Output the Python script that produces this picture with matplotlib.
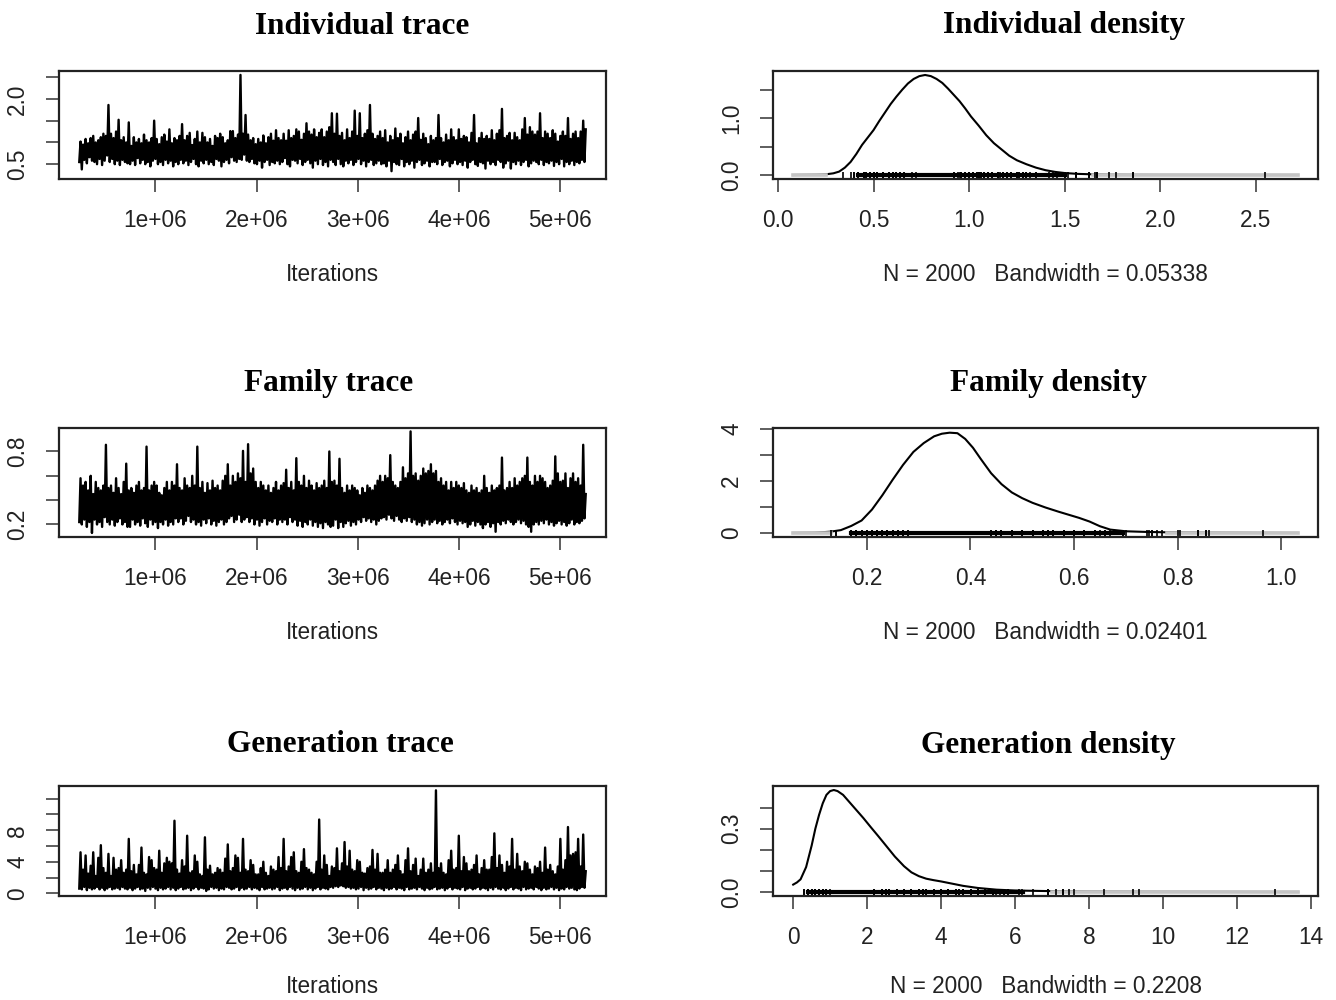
import numpy as np
import matplotlib
matplotlib.use('Agg')
import matplotlib.pyplot as plt

plt.rcParams['font.family'] = ['Liberation Sans', 'DejaVu Sans']

# MCMC chain: iterations 250000 .. 5250000 (2000 kept samples).
iter_start = 250000
iter_end = 5250000

ind_hi = [1.02, 0.95, 1.08, 0.98, 1.10, 1.15, 1.00, 1.05, 1.12, 1.20, 1.15, 1.86, 1.20, 1.10, 1.25, 1.52, 1.05, 1.12, 1.00, 1.46,
          0.92, 1.12, 1.00, 1.08, 0.98, 1.18, 1.05, 1.00, 1.10, 1.50, 1.08, 0.96, 1.12, 1.18, 1.02, 1.30, 0.98, 1.10, 1.05, 1.15,
          1.42, 1.05, 1.15, 1.22, 0.94, 1.08, 1.25, 1.00, 1.22, 1.12, 1.00, 1.08, 0.92, 1.15, 1.10, 1.20, 1.12, 0.98, 1.05, 1.26,
          1.26, 1.10, 1.18, 2.55, 1.20, 1.63, 1.18, 1.05, 1.10, 0.96, 1.08, 1.00, 1.16, 0.98, 1.12, 1.20, 1.04, 1.28, 1.10, 1.05,
          1.20, 1.04, 1.28, 1.10, 1.15, 1.30, 1.25, 1.06, 1.20, 1.44, 1.25, 1.18, 1.30, 1.12, 1.22, 1.30, 1.12, 1.25, 1.35, 1.67,
          1.20, 1.66, 1.15, 1.22, 1.05, 1.30, 1.10, 1.25, 1.73, 1.15, 1.67, 1.10, 1.20, 1.28, 1.86, 1.20, 1.08, 1.15, 1.25, 1.10,
          1.28, 1.00, 1.15, 1.05, 1.32, 1.10, 1.20, 0.98, 1.12, 1.25, 1.05, 1.18, 1.25, 1.56, 1.06, 1.20, 1.10, 0.96, 1.15, 1.05,
          1.10, 1.63, 1.10, 1.00, 1.18, 1.05, 1.30, 1.12, 1.05, 1.30, 1.08, 1.15, 1.12, 1.00, 1.22, 1.63, 0.98, 1.10, 1.22, 1.08,
          1.15, 1.08, 1.28, 1.05, 1.20, 1.28, 1.77, 1.10, 1.15, 1.22, 1.05, 1.22, 1.12, 1.05, 1.30, 1.56, 1.18, 1.35, 1.25, 1.18,
          1.25, 1.67, 1.10, 1.25, 1.20, 1.10, 1.28, 1.20, 1.02, 1.15, 1.25, 1.15, 1.56, 1.08, 1.20, 1.25, 1.10, 1.25, 1.50, 1.30]
ind_lo = [0.55, 0.38, 0.60, 0.52, 0.66, 0.58, 0.55, 0.50, 0.62, 0.48, 0.58, 0.70, 0.55, 0.62, 0.50, 0.58, 0.48, 0.60, 0.55, 0.52,
          0.50, 0.58, 0.48, 0.64, 0.52, 0.60, 0.50, 0.55, 0.45, 0.58, 0.62, 0.50, 0.55, 0.48, 0.60, 0.52, 0.58, 0.45, 0.55, 0.50,
          0.60, 0.52, 0.58, 0.48, 0.55, 0.62, 0.50, 0.45, 0.58, 0.52, 0.60, 0.50, 0.55, 0.48, 0.62, 0.58, 0.45, 0.55, 0.60, 0.52,
          0.66, 0.58, 0.55, 0.62, 0.60, 0.72, 0.58, 0.55, 0.62, 0.52, 0.50, 0.58, 0.42, 0.55, 0.60, 0.48, 0.55, 0.52, 0.58, 0.50,
          0.55, 0.64, 0.50, 0.45, 0.60, 0.58, 0.52, 0.62, 0.48, 0.55, 0.60, 0.52, 0.42, 0.58, 0.50, 0.62, 0.48, 0.55, 0.45, 0.60,
          0.55, 0.48, 0.62, 0.50, 0.45, 0.58, 0.52, 0.60, 0.48, 0.55, 0.62, 0.50, 0.58, 0.45, 0.55, 0.60, 0.48, 0.52, 0.58, 0.50,
          0.52, 0.45, 0.58, 0.34, 0.55, 0.50, 0.48, 0.62, 0.45, 0.55, 0.50, 0.58, 0.42, 0.55, 0.60, 0.48, 0.52, 0.58, 0.45, 0.55,
          0.55, 0.50, 0.62, 0.48, 0.55, 0.58, 0.45, 0.52, 0.60, 0.50, 0.55, 0.48, 0.58, 0.42, 0.55, 0.60, 0.50, 0.46, 0.55, 0.52,
          0.40, 0.58, 0.50, 0.55, 0.48, 0.60, 0.55, 0.42, 0.52, 0.58, 0.40, 0.55, 0.50, 0.58, 0.48, 0.55, 0.60, 0.45, 0.52, 0.58,
          0.55, 0.50, 0.60, 0.48, 0.55, 0.52, 0.58, 0.46, 0.55, 0.50, 0.62, 0.45, 0.55, 0.50, 0.58, 0.48, 0.55, 0.52, 0.60, 0.55]

fam_hi = [0.58, 0.52, 0.55, 0.48, 0.60, 0.45, 0.55, 0.50, 0.48, 0.52, 0.855, 0.50, 0.52, 0.46, 0.58, 0.50, 0.45, 0.55, 0.70, 0.48,
          0.50, 0.46, 0.52, 0.55, 0.48, 0.50, 0.84, 0.48, 0.52, 0.55, 0.52, 0.46, 0.44, 0.50, 0.55, 0.48, 0.55, 0.52, 0.695, 0.50,
          0.48, 0.58, 0.52, 0.50, 0.60, 0.52, 0.84, 0.50, 0.55, 0.46, 0.54, 0.48, 0.56, 0.50, 0.52, 0.48, 0.56, 0.60, 0.695, 0.52,
          0.60, 0.55, 0.62, 0.58, 0.805, 0.55, 0.86, 0.62, 0.66, 0.55, 0.50, 0.55, 0.52, 0.48, 0.52, 0.46, 0.50, 0.55, 0.48, 0.52,
          0.54, 0.65, 0.50, 0.55, 0.48, 0.745, 0.55, 0.52, 0.60, 0.50, 0.56, 0.52, 0.48, 0.54, 0.50, 0.52, 0.56, 0.50, 0.80, 0.55,
          0.56, 0.52, 0.74, 0.50, 0.46, 0.52, 0.48, 0.52, 0.50, 0.48, 0.44, 0.50, 0.46, 0.52, 0.50, 0.48, 0.52, 0.56, 0.60, 0.55,
          0.60, 0.58, 0.77, 0.55, 0.52, 0.50, 0.55, 0.67, 0.58, 0.62, 0.965, 0.60, 0.62, 0.56, 0.60, 0.66, 0.62, 0.64, 0.695, 0.62,
          0.64, 0.55, 0.58, 0.52, 0.55, 0.48, 0.55, 0.50, 0.55, 0.52, 0.50, 0.54, 0.48, 0.46, 0.52, 0.48, 0.50, 0.46, 0.48, 0.60,
          0.50, 0.46, 0.52, 0.48, 0.50, 0.52, 0.75, 0.48, 0.50, 0.55, 0.50, 0.58, 0.52, 0.55, 0.58, 0.60, 0.75, 0.55, 0.52, 0.60,
          0.55, 0.60, 0.58, 0.55, 0.50, 0.52, 0.56, 0.76, 0.62, 0.55, 0.56, 0.62, 0.50, 0.58, 0.62, 0.55, 0.58, 0.52, 0.855, 0.45]
fam_lo = [0.22, 0.20, 0.24, 0.18, 0.22, 0.13, 0.24, 0.20, 0.22, 0.18, 0.26, 0.22, 0.20, 0.24, 0.19, 0.22, 0.25, 0.20, 0.22, 0.18,
          0.18, 0.24, 0.20, 0.22, 0.19, 0.25, 0.21, 0.18, 0.24, 0.20, 0.22, 0.17, 0.22, 0.20, 0.24, 0.19, 0.22, 0.20, 0.25, 0.22,
          0.25, 0.20, 0.23, 0.27, 0.22, 0.24, 0.20, 0.22, 0.19, 0.24, 0.21, 0.25, 0.20, 0.23, 0.19, 0.22, 0.24, 0.20, 0.22, 0.25,
          0.27, 0.22, 0.24, 0.28, 0.22, 0.24, 0.26, 0.22, 0.25, 0.20, 0.24, 0.19, 0.22, 0.25, 0.20, 0.23, 0.22, 0.25, 0.20, 0.24,
          0.22, 0.24, 0.20, 0.26, 0.22, 0.24, 0.19, 0.23, 0.18, 0.22, 0.20, 0.24, 0.19, 0.22, 0.18, 0.21, 0.17, 0.22, 0.20, 0.18,
          0.19, 0.24, 0.17, 0.22, 0.18, 0.21, 0.23, 0.19, 0.22, 0.20, 0.24, 0.22, 0.26, 0.23, 0.25, 0.22, 0.24, 0.20, 0.23, 0.25,
          0.26, 0.24, 0.28, 0.25, 0.23, 0.27, 0.24, 0.22, 0.25, 0.23, 0.26, 0.22, 0.24, 0.20, 0.22, 0.19, 0.21, 0.24, 0.20, 0.22,
          0.24, 0.21, 0.23, 0.20, 0.22, 0.24, 0.21, 0.25, 0.22, 0.20, 0.23, 0.21, 0.22, 0.18, 0.20, 0.23, 0.19, 0.22, 0.20, 0.17,
          0.20, 0.22, 0.18, 0.21, 0.14, 0.22, 0.20, 0.23, 0.21, 0.24, 0.22, 0.20, 0.22, 0.24, 0.21, 0.23, 0.20, 0.18, 0.14, 0.20,
          0.22, 0.20, 0.23, 0.21, 0.24, 0.20, 0.22, 0.19, 0.21, 0.23, 0.20, 0.22, 0.19, 0.21, 0.24, 0.20, 0.22, 0.21, 0.23, 0.25]

gen_hi = [5.2, 3.0, 4.8, 2.5, 3.5, 5.2, 2.2, 4.5, 6.1, 3.2, 2.6, 5.0, 2.2, 4.5, 3.0, 3.2, 4.2, 2.6, 3.0, 6.9,
          2.8, 3.6, 2.4, 3.6, 5.8, 2.6, 2.4, 4.6, 4.2, 3.2, 3.0, 5.4, 2.6, 3.8, 4.5, 4.0, 3.8, 9.2, 3.0, 2.5,
          4.2, 3.4, 7.3, 2.6, 2.8, 4.8, 4.0, 2.4, 2.2, 7.1, 3.0, 3.5, 2.4, 2.6, 3.2, 3.0, 2.6, 4.4, 6.2, 2.8,
          3.2, 4.8, 4.5, 2.6, 6.9, 3.0, 2.8, 4.2, 3.6, 2.4, 2.4, 3.2, 4.0, 2.6, 2.2, 3.4, 3.0, 2.8, 4.6, 3.2,
          6.9, 2.8, 3.4, 4.6, 5.2, 2.8, 2.6, 4.0, 5.6, 3.2, 3.0, 2.6, 2.4, 4.0, 9.35, 3.0, 4.8, 3.6, 2.2, 3.4,
          3.2, 5.7, 2.8, 3.8, 6.5, 3.4, 5.4, 3.0, 2.8, 4.2, 4.0, 2.6, 2.5, 3.2, 3.4, 5.5, 3.0, 5.0, 2.6, 2.6,
          3.0, 4.2, 2.6, 3.0, 3.6, 4.8, 2.8, 2.4, 4.2, 5.7, 2.8, 3.6, 4.4, 2.2, 3.0, 4.4, 2.6, 3.0, 3.8, 2.6,
          13.05, 3.2, 3.8, 2.6, 2.4, 4.2, 5.4, 3.0, 3.2, 7.3, 2.8, 4.6, 3.8, 2.8, 3.0, 3.6, 4.8, 2.4, 3.2, 4.2,
          3.0, 3.0, 4.6, 7.6, 3.2, 4.8, 3.6, 2.6, 4.0, 3.4, 6.9, 3.0, 5.0, 3.4, 2.8, 4.0, 3.8, 3.0, 2.4, 3.4,
          3.2, 4.0, 2.6, 5.8, 3.0, 3.6, 2.8, 2.4, 3.4, 6.9, 3.0, 4.2, 8.4, 4.8, 5.0, 5.2, 6.9, 3.4, 7.45, 2.8]
gen_lo = [0.6, 0.5, 0.8, 0.4, 0.7, 0.5, 0.6, 0.8, 0.5, 0.7, 0.4, 0.6, 0.8, 0.5, 0.6, 0.7, 0.5, 0.8, 0.6, 0.5,
          0.7, 0.4, 0.6, 0.8, 0.5, 0.6, 0.3, 0.7, 0.5, 0.8, 0.6, 0.4, 0.7, 0.5, 0.6, 0.8, 0.5, 0.7, 0.4, 0.6,
          0.8, 0.5, 0.6, 0.7, 0.4, 0.6, 0.8, 0.5, 0.7, 0.6, 0.3, 0.5, 0.8, 0.6, 0.7, 0.4, 0.6, 0.5, 0.8, 0.7,
          0.5, 0.6, 0.8, 0.4, 0.7, 0.5, 0.6, 0.8, 0.5, 0.7, 0.6, 0.4, 0.8, 0.5, 0.6, 0.7, 0.5, 0.6, 0.8, 0.4,
          0.6, 0.7, 0.5, 0.8, 0.6, 0.4, 0.7, 0.5, 0.6, 0.8, 0.5, 0.7, 0.4, 0.6, 0.8, 0.5, 0.7, 0.6, 0.5, 0.8,
          0.7, 0.9, 0.8, 1.0, 0.9, 0.7, 0.8, 0.6, 0.7, 0.5, 0.6, 0.8, 0.4, 0.7, 0.5, 0.6, 0.8, 0.5, 0.7, 0.6,
          0.4, 0.7, 0.5, 0.6, 0.8, 0.5, 0.7, 0.6, 0.4, 0.8, 0.5, 0.6, 0.7, 0.5, 0.8, 0.6, 0.4, 0.7, 0.5, 0.6,
          0.8, 0.5, 0.6, 0.7, 0.4, 0.6, 0.8, 0.5, 0.7, 0.6, 0.5, 0.8, 0.4, 0.6, 0.7, 0.5, 0.6, 0.8, 0.5, 0.7,
          0.6, 0.4, 0.7, 0.5, 0.8, 0.6, 0.5, 0.7, 0.4, 0.6, 0.8, 0.5, 0.7, 0.6, 0.4, 0.8, 0.5, 0.6, 0.7, 0.5,
          0.8, 0.6, 0.4, 0.7, 0.5, 0.6, 0.8, 0.5, 0.7, 0.4, 0.6, 0.5, 0.8, 0.6, 0.7, 0.5, 0.4, 0.6, 0.8, 0.7]

# kernel density estimates
ind_dens_x = [0.08, 0.20, 0.25, 0.29, 0.32, 0.35, 0.38, 0.41, 0.44, 0.47, 0.50, 0.53, 0.56, 0.59, 0.62, 0.65, 0.68,
              0.71, 0.74, 0.77, 0.80, 0.83, 0.86, 0.89, 0.92, 0.95, 0.98, 1.01, 1.05, 1.09, 1.13, 1.17, 1.21, 1.25,
              1.30, 1.35, 1.40, 1.45, 1.50, 1.57, 1.65, 1.75, 1.85, 2.00, 2.72]
ind_dens_y = [0.0, 0.005, 0.012, 0.03, 0.06, 0.13, 0.23, 0.37, 0.53, 0.66, 0.79, 0.95, 1.10, 1.25, 1.38, 1.50, 1.61,
              1.69, 1.74, 1.76, 1.74, 1.69, 1.62, 1.52, 1.41, 1.30, 1.17, 1.03, 0.87, 0.70, 0.56, 0.45, 0.34, 0.26,
              0.19, 0.13, 0.085, 0.055, 0.035, 0.02, 0.012, 0.006, 0.003, 0.001, 0.0]

fam_dens_x = [0.058, 0.10, 0.13, 0.15, 0.17, 0.19, 0.21, 0.23, 0.25, 0.27, 0.29, 0.31, 0.33, 0.345, 0.36, 0.375, 0.39,
              0.405, 0.42, 0.44, 0.46, 0.48, 0.50, 0.52, 0.545, 0.57, 0.59, 0.61, 0.63, 0.65, 0.67, 0.70, 0.74,
              0.78, 0.86, 0.95, 1.032]
fam_dens_y = [0.0, 0.01, 0.05, 0.11, 0.27, 0.48, 0.90, 1.45, 2.05, 2.62, 3.12, 3.46, 3.72, 3.82, 3.86, 3.84, 3.62,
              3.28, 2.85, 2.30, 1.88, 1.56, 1.34, 1.16, 0.98, 0.82, 0.70, 0.58, 0.44, 0.26, 0.13, 0.065, 0.04,
              0.025, 0.012, 0.004, 0.0]

gen_dens_x = [0.0, 0.1, 0.2, 0.35, 0.5, 0.6, 0.7, 0.8, 0.9, 1.0, 1.1, 1.2, 1.35, 1.5, 1.7, 1.9, 2.1, 2.3, 2.5, 2.75,
              3.0, 3.2, 3.4, 3.6, 3.8, 4.0, 4.2, 4.6, 5.0, 5.5, 6.0, 7.0, 8.0, 9.5, 13.66]
gen_dens_y = [0.035, 0.045, 0.06, 0.118, 0.22, 0.30, 0.365, 0.42, 0.46, 0.478, 0.483, 0.478, 0.46, 0.43, 0.39, 0.35,
              0.307, 0.265, 0.222, 0.168, 0.122, 0.093, 0.075, 0.063, 0.056, 0.050, 0.043, 0.029, 0.019, 0.011,
              0.007, 0.004, 0.002, 0.001, 0.0]

bandwidths = ['0.05338', '0.02401', '0.2208']
n_samples = 2000

trace_titles = ['Individual trace', 'Family trace', 'Generation trace']
dens_titles = ['Individual density', 'Family density', 'Generation density']


fig = plt.figure(figsize=(13.36, 10), dpi=100)
W, H = 1336.0, 1000.0

def px_axes(x0, y0, x1, y1):
    return fig.add_axes([x0 / W, 1 - y1 / H, (x1 - x0) / W, (y1 - y0) / H])

rows = [(71, 179), (428, 537), (786, 896)]
xlabel_pads = [22.5, 22.5, 19]
trace_title_pos = [(362, 26), (329, 384), (340, 745)]
dens_title_pos = [(1064, 26), (1048, 384), (1048, 745)]

lows = [ind_lo, fam_lo, gen_lo]
highs = [ind_hi, fam_hi, gen_hi]
trace_ylims = [(0.16, 2.64), (0.097, 0.993), (-0.34, 13.6)]
trace_yticks = [[0.5, 1.0, 1.5, 2.0, 2.5], [0.2, 0.4, 0.6, 0.8], [0, 2, 4, 6, 8, 10, 12]]
trace_ylabels = [['0.5', '', '', '2.0', ''], ['0.2', '', '', '0.8'], ['0', '', '4', '', '8', '', '']]

dens_x = [ind_dens_x, fam_dens_x, gen_dens_x]
dens_y = [ind_dens_y, fam_dens_y, gen_dens_y]
dens_xlims = [(-0.026, 2.826), (0.019, 1.071), (-0.546, 14.2)]
dens_ylims = [(-0.07, 1.83), (-0.155, 4.04), (-0.019, 0.502)]
dens_xticks = [[0.0, 0.5, 1.0, 1.5, 2.0, 2.5], [0.2, 0.4, 0.6, 0.8, 1.0], [0, 2, 4, 6, 8, 10, 12, 14]]
dens_xlabels = [['0.0', '0.5', '1.0', '1.5', '2.0', '2.5'], ['0.2', '0.4', '0.6', '0.8', '1.0'],
                ['0', '2', '4', '6', '8', '10', '12', '14']]
dens_yticks = [[0.0, 0.5, 1.0, 1.5], [0, 1, 2, 3, 4], [0.0, 0.1, 0.2, 0.3, 0.4]]
dens_ylabels = [['0.0', '', '1.0', ''], ['0', '', '2', '', '4'], ['0.0', '', '', '0.3', '']]

FS = 16.3

def style(ax):
    for s in ax.spines.values():
        s.set_linewidth(1.6)
        s.set_color('#222222')
    ax.tick_params(direction='out', length=9.5, width=1.1, color='#333333',
                   labelsize=FS, pad=12, labelcolor='#222222')
    ax.tick_params(axis='y', labelrotation=90)
    for lab in ax.get_yticklabels():
        lab.set_va('center')


for r in range(3):
    y0, y1 = rows[r]
    # chain goes low, high, low, high ... inside each bin
    chain = np.column_stack([lows[r], highs[r]]).ravel()

    # trace
    ax = px_axes(59, y0, 606, y1)
    iters = np.linspace(iter_start, iter_end, len(chain))
    ax.plot(iters, chain, color='black', lw=1.7)
    ax.set_xlim(50000, 5450000)
    ax.set_ylim(*trace_ylims[r])
    ax.set_xticks([1e6, 2e6, 3e6, 4e6, 5e6])
    ax.set_xticklabels(['1e+06', '2e+06', '3e+06', '4e+06', '5e+06'])
    ax.set_yticks(trace_yticks[r])
    ax.set_yticklabels(trace_ylabels[r])
    style(ax)
    ax.set_xlabel('Iterations', fontsize=FS, labelpad=xlabel_pads[r], color='#222222')
    tx, ty = trace_title_pos[r]
    fig.text(tx / W, 1 - ty / H, trace_titles[r], ha='center', va='center',
             fontsize=22.5, fontweight='bold', family='Liberation Serif')

    # density
    ax = px_axes(773, y0, 1318, y1)
    xs = np.array(dens_x[r])
    ys = np.array(dens_y[r])
    peak = ys.max()
    ax.plot(xs, ys, color='black', lw=1.5)
    # near-zero tails look light grey in the original
    tail = ys <= 0.006 * peak
    ax.plot([xs.min(), xs[~tail].min()], [0, 0], color='#c4c4c4', lw=2.6)
    ax.plot([xs[~tail].max(), xs.max()], [0, 0], color='#c4c4c4', lw=2.6)
    # observations along the bottom
    ax.plot([np.percentile(chain, 1), np.percentile(chain, 96)], [0, 0], color='black', lw=3)
    ax.plot(chain, np.zeros_like(chain), '|', color='black', ms=4, mew=1.2)
    ax.set_xlim(*dens_xlims[r])
    ax.set_ylim(*dens_ylims[r])
    ax.set_xticks(dens_xticks[r])
    ax.set_xticklabels(dens_xlabels[r])
    ax.set_yticks(dens_yticks[r])
    ax.set_yticklabels(dens_ylabels[r])
    style(ax)
    ax.set_xlabel('N = %d   Bandwidth = %s' % (n_samples, bandwidths[r]), fontsize=FS,
                  labelpad=xlabel_pads[r], color='#222222')
    tx, ty = dens_title_pos[r]
    fig.text(tx / W, 1 - ty / H, dens_titles[r], ha='center', va='center',
             fontsize=22.5, fontweight='bold', family='Liberation Serif')

fig.savefig('out.png', dpi=100, facecolor='white')
